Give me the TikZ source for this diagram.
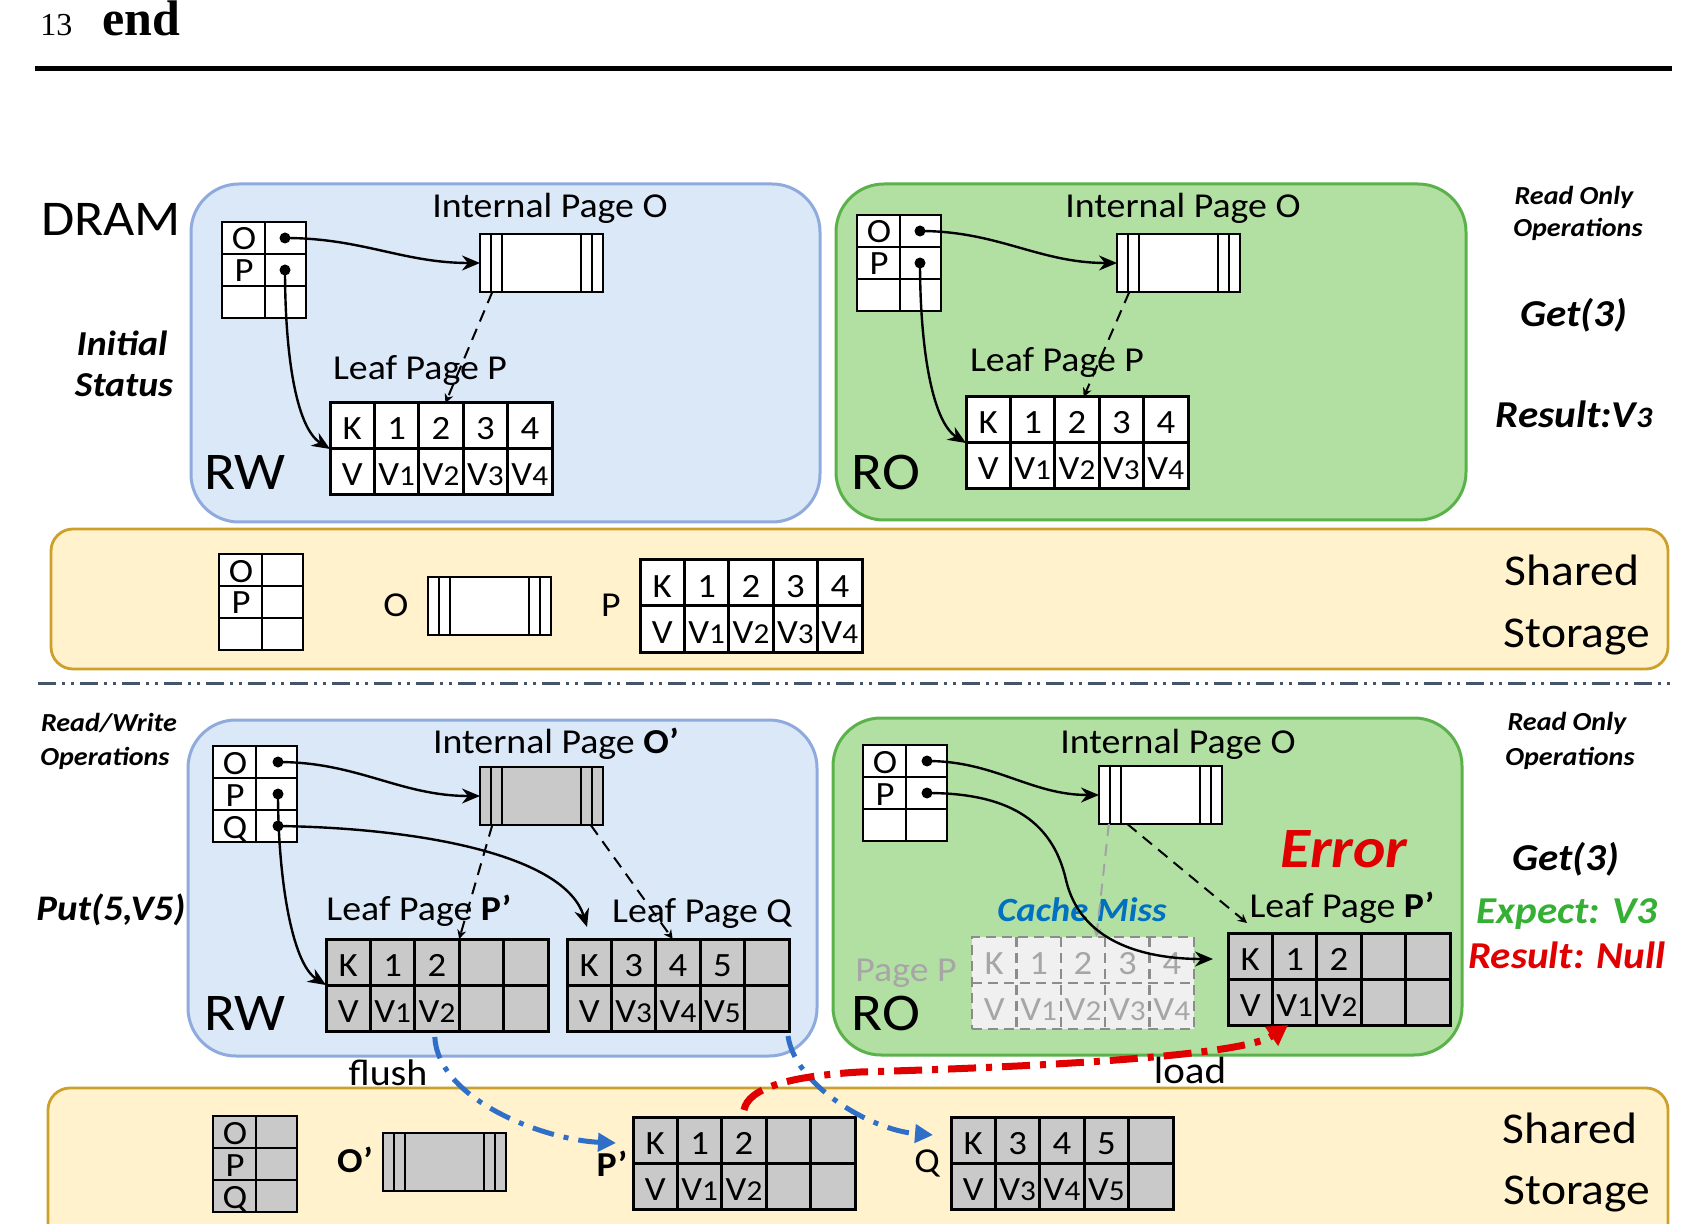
\documentclass[tikz,border=0pt]{standalone}
\usepackage{graphicx}
\usepackage{fontspec}
\setmainfont{Carlito}[FakeStretch=1.08]
\newfontfamily\hdrfont{Liberation Serif}
\usetikzlibrary{arrows.meta,calc}

\definecolor{rwfill}{HTML}{DAE8F8}
\definecolor{rwline}{HTML}{8FAADC}
\definecolor{rofill}{HTML}{B2E0A3}
\definecolor{roline}{HTML}{5BB14A}
\definecolor{stfill}{HTML}{FFF2CC}
\definecolor{stline}{HTML}{CCA02A}
\definecolor{cellgray}{HTML}{C9C9C9}
\definecolor{ghostfill}{HTML}{F0F0F0}
\definecolor{ghostline}{HTML}{8C8C8C}
\definecolor{ghosttext}{HTML}{A6A6A6}
\definecolor{errred}{HTML}{E00000}
\definecolor{okgreen}{HTML}{35B035}
\definecolor{missblue}{HTML}{0070C0}
\definecolor{flushblue}{HTML}{2F6FC8}
\definecolor{sepgray}{HTML}{44546A}

\newcommand\fsz[1]{\fontsize{#1}{#1}\selectfont}
\newcommand\vs[1]{V\scalebox{0.85}{#1}}

\tikzset{
  leafbox/.style={draw, rectangle, line width=1.5pt, minimum width=111pt, minimum height=46pt, inner sep=0pt, outer sep=0pt},
  ipbox/.style={draw, rectangle, line width=1.3pt, minimum width=61.5pt, minimum height=29pt, inner sep=0pt, outer sep=0pt},
  ptbox/.style={draw, rectangle, line width=1.3pt, minimum width=42pt, minimum height=48pt, inner sep=0pt, outer sep=0pt},
  boxW/.style={fill=white},
  boxG/.style={fill=cellgray},
  boxH/.style={fill=ghostfill, draw=ghostline, dash pattern=on 5pt off 3pt, line width=1.2pt},
  lineW/.style={},
  lineG/.style={},
  lineH/.style={draw=ghostline, dash pattern=on 5pt off 3pt, line width=1.2pt},
  textW/.style={},
  textG/.style={},
  textH/.style={text=ghosttext},
  tline/.style={line width=1.5pt},
  pline/.style={line width=1.3pt},
  ipline/.style={line width=1pt},
  cell/.style={font=\fsz{17}, anchor=base, inner sep=0pt},
  plbl/.style={font=\fsz{17}, anchor=base, inner sep=0pt},
  dot/.style={circle, fill=black, inner sep=0pt, minimum size=5.5pt},
  lbl/.style={font=\fsz{17.5}, anchor=base, inner sep=0pt},
  big/.style={font=\fsz{26.5}, anchor=base, inner sep=0pt},
  shr/.style={font=\fsz{22}, anchor=base, inner sep=0pt},
  ops/.style={font=\fsz{13}\bfseries\itshape, anchor=base, inner sep=0pt},
  opb/.style={font=\fsz{19}\bfseries\itshape, anchor=base, inner sep=0pt},
  arr/.style={line width=1.2pt, -{Stealth[length=9pt,width=7.5pt]}},
  darr/.style={line width=1pt, dash pattern=on 6pt off 4pt, -{Stealth[length=4.5pt,width=4.5pt]}},
  garr/.style={darr, draw=ghostline!80},
  flusharr/.style={draw=flushblue, line width=2.5pt, dash pattern=on 11pt off 5pt on 2.5pt off 5pt, -{Triangle[length=9pt,width=9pt]}},
  loadarr/.style={draw=errred, line width=3.5pt, dash pattern=on 14pt off 5pt on 3pt off 5pt, -{Triangle[length=10pt,width=11pt]}},
  rwarea/.style={fill=rwfill, draw=rwline, line width=1.5pt, rounded corners=24pt},
  roarea/.style={fill=rofill, draw=roline, line width=1.5pt, rounded corners=24pt},
  starea/.style={fill=stfill, draw=stline, line width=1.4pt, rounded corners=11pt},
}

% leaf page table: name, x, y (top-left, px), kind (W/G/H), top row, bottom row
\newcommand\leaf[6]{%
  \node[leafbox,box#4,anchor=north west] (#1) at (#2,#3) {};
  \foreach \k in {1,2,3,4} \draw[tline,line#4] ({#2+44.4*\k},#3) -- ++(0,92);
  \draw[tline,line#4] (#2,{#3+46}) -- ++(222,0);
  \foreach \t [count=\i from 0] in {#5} \node[cell,text#4] at ({#2+44.4*\i+22.2},{#3+37}) {\t};
  \foreach \t [count=\i from 0] in {#6} \node[cell,text#4] at ({#2+44.4*\i+22.2},{#3+83}) {\t};
}
% internal page: name, x, y, kind
\newcommand\ipage[4]{%
  \node[ipbox,box#4,anchor=north west] (#1) at (#2,#3) {};
  \foreach \d in {11,22} {\draw[ipline] ({#2+\d},#3) -- ++(0,58); \draw[ipline] ({#2+123-\d},#3) -- ++(0,58);}
}
% page table: name, x, y, kind, labels
\newcommand\ptab[5]{%
  \node[ptbox,box#4,anchor=north west] (#1) at (#2,#3) {};
  \draw[pline] ({#2+43},#3) -- ++(0,96);
  \draw[pline] (#2,{#3+32}) -- ++(84,0);
  \draw[pline] (#2,{#3+64}) -- ++(84,0);
  \foreach \t [count=\i from 0] in {#5} \node[plbl] at ({#2+22},{#3+32*\i+28}) {\t};
}

\begin{document}
\begin{tikzpicture}[x=0.5pt, y=-0.5pt]
\useasboundingbox (0,0) rectangle (1681,1224);
\fill[white] (0,0) rectangle (1681,1224);

% header
\node[anchor=base west, inner sep=0pt, font=\hdrfont\fsz{16}] (hdrnum) at (40,36) {13};
\node[anchor=base west, inner sep=0pt, font=\hdrfont\bfseries\fsz{25}] (hdrend) at (102,36) {end};
\draw[line width=2.6pt] (35,68.5) -- (1672,68.5);

% containers
\draw[rwarea] (191,184) rectangle (820,522);
\draw[roarea] (836,184) rectangle (1466,520);
\draw[starea] (51,529) rectangle (1668,669);
\draw[sepgray, line width=1.5pt, dash pattern=on 9pt off 3pt on 1.5pt off 3pt on 1.5pt off 3pt] (38,683) -- (1672,683);
\draw[rwarea] (188,720) rectangle (817,1056);
\draw[roarea] (833,718) rectangle (1462,1055);
\draw[starea] (48,1088) rectangle (1668,1270);

% ---------- top: initial status ----------
\ptab{gRW1}{222}{222}{W}{O,P,{}}
\node[dot] (dRW1O) at (285,238) {};
\node[dot] (dRW1P) at (285,270) {};
\ipage{ipRW1}{480}{234}{W}
\leaf{lfRW1}{330}{403}{W}{K,1,2,3,4}{V,\vs{1},\vs{2},\vs{3},\vs{4}}

\ptab{gRO1}{857}{215}{W}{O,P,{}}
\node[dot] (dRO1O) at (920,231) {};
\node[dot] (dRO1P) at (920,263) {};
\ipage{ipRO1}{1117}{234}{W}
\leaf{lfRO1}{966}{397}{W}{K,1,2,3,4}{V,\vs{1},\vs{2},\vs{3},\vs{4}}

\ptab{gS1}{219}{554}{W}{O,P,{}}
\ipage{ipS1}{428}{577}{W}
\leaf{lfS1}{640}{560}{W}{K,1,2,3,4}{V,\vs{1},\vs{2},\vs{3},\vs{4}}

% ---------- bottom: after put ----------
\ptab{gRW2}{213}{746}{W}{O,P,Q}
\node[dot] (dRW2O) at (278,762) {};
\node[dot] (dRW2P) at (278,794) {};
\node[dot] (dRW2Q) at (278,826) {};
\ipage{ipRW2}{480}{767}{G}
\leaf{lfRW2P}{326}{939}{G}{K,1,2,{},{}}{V,\vs{1},\vs{2},{},{}}
\leaf{lfRW2Q}{567}{939}{G}{K,3,4,5,{}}{V,\vs{3},\vs{4},\vs{5},{}}

\ptab{gRO2}{863}{745}{W}{O,P,{}}
\node[dot] (dRO2O) at (927,761) {};
\node[dot] (dRO2P) at (927,793) {};
\ipage{ipRO2}{1099}{766}{W}
\leaf{ghost}{972}{937}{H}{K,1,2,3,4}{V,\vs{1},\vs{2},\vs{3},\vs{4}}
\leaf{lfRO2P}{1228}{933}{G}{K,1,2,{},{}}{V,\vs{1},\vs{2},{},{}}

\ptab{gS2}{213}{1116}{G}{O,P,Q}
\ipage{ipS2}{383}{1133}{G}
\leaf{lfS2P}{633}{1117}{G}{K,1,2,{},{}}{V,\vs{1},\vs{2},{},{}}
\leaf{lfS2Q}{951}{1117}{G}{K,3,4,5,{}}{V,\vs{3},\vs{4},\vs{5},{}}

% ---------- labels ----------
\node[font=\fsz{25}, anchor=base, inner sep=0pt] (tDRAM) at (111,236) {DRAM};
\node[opb, font=\fsz{17.5}\bfseries\itshape] (tInit1) at (122,356) {Initial};
\node[opb, font=\fsz{17.5}\bfseries\itshape] (tInit2) at (124,397) {Status};
\node[ops] (tROop1a) at (1574,205) {Read Only};
\node[ops] (tROop1b) at (1578,237) {Operations};
\node[opb] (tGet1) at (1574,327) {Get(3)};
\node[opb] (tRes1) at (1574,428) {Result:V\scalebox{0.78}{3}};
\node[big] (tRW1) at (245,490) {RW};
\node[big] (tRO1) at (886,490) {RO};
\node[lbl] (tIP1) at (550,218) {Internal Page O};
\node[lbl] (tIP2) at (1183,218) {Internal Page O};
\node[lbl] (tLP1) at (420,380) {Leaf Page P};
\node[lbl] (tLP2) at (1057,372) {Leaf Page P};
\node[shr] (tSh1) at (1572,586) {Shared};
\node[shr] (tSt1) at (1577,647) {Storage};
\node[lbl] (tSO) at (396,617) {O};
\node[lbl] (tSP) at (611,617) {P};

\node[ops] (tRWop1) at (109,731) {Read/Write};
\node[ops] (tRWop2) at (105,765) {Operations};
\node[opb, font=\fsz{18}\bfseries\itshape] (tPut) at (111,920) {Put(5,V5)};
\node[ops] (tROop2a) at (1567,730) {Read Only};
\node[ops] (tROop2b) at (1570,765) {Operations};
\node[opb] (tGet2) at (1566,870) {Get(3)};
\node[opb, text=okgreen] (tExp) at (1567,923) {Expect: V3};
\node[opb, text=errred] (tRes2) at (1567,968) {Result: Null};
\node[opb, font=\fsz{28.5}\bfseries\itshape, text=errred] (tErr) at (1344,867) {Error};
\node[lbl] (tIP3) at (556,753) {Internal Page \textbf{O’}};
\node[lbl] (tIP4) at (1178,753) {Internal Page O};
\node[lbl] (tLP3) at (419,920) {Leaf Page \textbf{P’}};
\node[lbl] (tLQ) at (702,922) {Leaf Page Q};
\node[lbl] (tLP4) at (1342,917) {Leaf Page \textbf{P’}};
\node[opb, font=\fsz{17}\bfseries\itshape, text=missblue] (tMiss) at (1082,921) {Cache Miss};
\node[lbl, text=ghosttext] (tPageP) at (906,981) {Page P};
\node[lbl, font=\fsz{18.5}] (tFlush) at (388,1085) {flush};
\node[lbl, font=\fsz{19}] (tLoad) at (1190,1083) {load};
\node[big] (tRW2) at (245,1030) {RW};
\node[big] (tRO2) at (886,1030) {RO};
\node[lbl, font=\fsz{17.5}\bfseries] (tSO2) at (355,1172) {O’};
\node[lbl, font=\fsz{17.5}\bfseries] (tSP2) at (612,1176) {P’};
\node[lbl] (tSQ2) at (927,1172) {Q};
\node[shr] (tSh2) at (1570,1143) {Shared};
\node[shr] (tSt2) at (1577,1204) {Storage};

% ---------- connectors: top ----------
\draw[arr] (dRW1O.center) to[out=0,in=180] (ipRW1.west);
\draw[arr] (dRW1P.center) .. controls +(0,80) and +(-35,-22) .. (lfRW1.west);
\draw[darr] ($(ipRW1.south west)!0.1!(ipRW1.south east)$) -- ($(lfRW1.north west)!0.52!(lfRW1.north east)$);

\draw[arr] (dRO1O.center) to[out=0,in=180] (ipRO1.west);
\draw[arr] (dRO1P.center) .. controls +(0,80) and +(-35,-22) .. (lfRO1.west);
\draw[darr] ($(ipRO1.south west)!0.1!(ipRO1.south east)$) -- ($(lfRO1.north west)!0.53!(lfRO1.north east)$);

% ---------- connectors: bottom RW ----------
\coordinate (qTip) at ($(lfRW2Q.north west)+(20,-12)$);
\draw[arr] (dRW2O.center) to[out=0,in=180] (ipRW2.west);
\draw[arr] (dRW2P.center) .. controls +(0,80) and +(-35,-22) .. (lfRW2P.west);
\draw[arr] (dRW2Q.center) .. controls (420,828) and (565,855) .. (qTip);
\draw[darr] ($(ipRW2.south west)!0.1!(ipRW2.south east)$) -- ($(lfRW2P.north west)!0.6!(lfRW2P.north east)$);
\draw[darr] ($(ipRW2.south west)!0.9!(ipRW2.south east)$) -- ($(lfRW2Q.north west)!0.476!(lfRW2Q.north east)$);

% ---------- connectors: bottom RO ----------
\coordinate (pTip) at ($(lfRO2P.west)+(-15,-20)$);
\coordinate (pdTip) at ($(lfRO2P.north west)+(19,-10)$);
\draw[arr] (dRO2O.center) to[out=0,in=180] (ipRO2.west);
\draw[garr] ($(ipRO2.south west)!0.08!(ipRO2.south east)$) -- ($(ghost.north west)!0.56!(ghost.north east)$);
\draw[darr] ($(ipRO2.south west)!0.23!(ipRO2.south east)$) -- (pdTip);
\draw[arr] (dRO2P.center) .. controls (1005,793) and (1052,818) .. (1066,880) .. controls (1080,940) and (1140,959) .. (pTip);

% ---------- flush / load ----------
\coordinate (f1s) at ($(lfRW2P.south west)!0.49!(lfRW2P.south east)$);
\coordinate (f1t) at ($(lfS2P.west)+(-17,-20)$);
\coordinate (f2s) at ($(lfRW2Q.south east)+(-1,5)$);
\coordinate (f2t) at ($(lfS2Q.west)+(-18,-28)$);
\coordinate (ls) at ($(lfS2P.north)+(0,-7)$);
\coordinate (lt) at ($(lfRO2P.south west)!0.27!(lfRO2P.south east)$);
\draw[flusharr] ($(f1s)+(0,6)$) .. controls (438,1100) and (545,1140) .. (f1t);
\draw[flusharr] (f2s) .. controls (795,1085) and (870,1130) .. (f2t);
\draw[loadarr] (ls) .. controls (748,1088) and (790,1076) .. (860,1072) .. controls (1000,1068) and (1240,1058) .. (lt);
\end{tikzpicture}
\end{document}
